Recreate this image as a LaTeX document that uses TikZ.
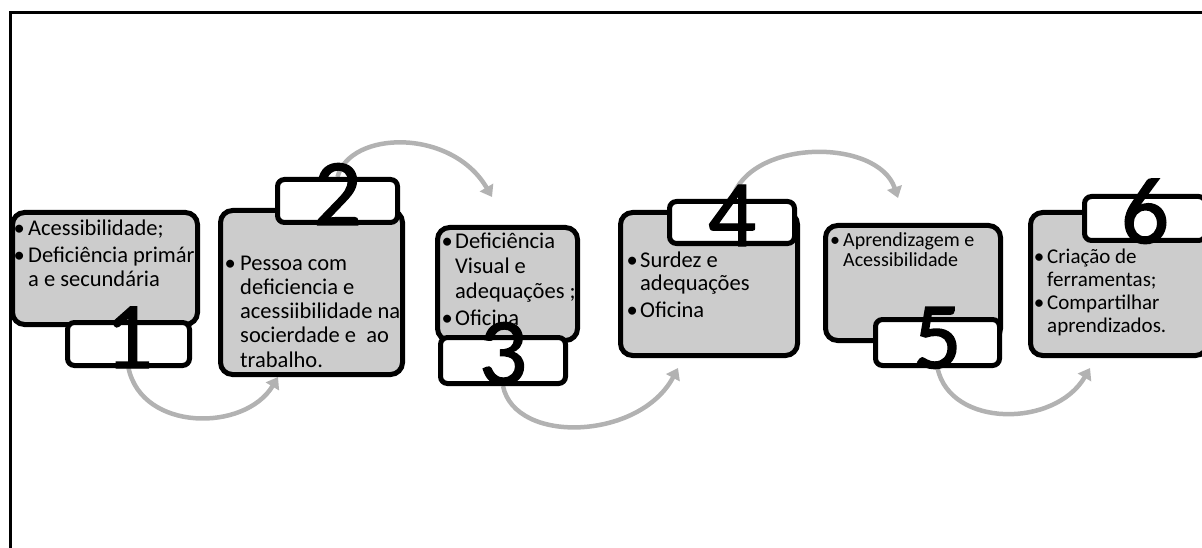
\documentclass[tikz,border=0pt]{standalone}
\usepackage{fontspec}
\setmainfont{Carlito}
\newfontfamily\digitfont{Carlito}[FakeBold=1.5]
\usetikzlibrary{arrows.meta,backgrounds}
\definecolor{boxgray}{RGB}{204,204,204}
\definecolor{arcgray}{RGB}{178,178,178}
% bullet centred on the current point, text to its right
\newcommand\bul[1][9pt]{\makebox[0pt][c]{\textbullet}\hspace*{#1}}
\newcommand\ind[1][9pt]{\hspace*{#1}}
\begin{document}
\begin{tikzpicture}[x=1pt,y=-1pt,
  graybox/.style={draw=black,line width=5pt,fill=boxgray,rounded corners=12pt,inner sep=0pt},
  numbox/.style={draw=black,line width=5pt,fill=white,rounded corners=7pt,inner sep=0pt},
  digit/.style={anchor=base,inner sep=0pt,font=\digitfont\fontsize{95}{95}\selectfont},
  textblock/.style={anchor=base west,inner sep=0pt},
  flowarc/.style={draw=arcgray,line width=4.5pt,-{Triangle[length=11pt,width=15pt]}}
]
\useasboundingbox (0,0) rectangle (1202,548);
\clip (0,0) rectangle (1202,548);

% outer frame (only its top and left sides fall inside the page)
\draw[line width=3pt] (10,12.5) rectangle (1260,620);

% step boxes
\node[graybox,minimum width=185pt,minimum height=112pt] (b1) at (105,268.5) {};
\node[graybox,minimum width=182pt,minimum height=164pt] (b2) at (311.5,292.5) {};
\node[graybox,minimum width=140pt,minimum height=113pt] (b3) at (507.5,284) {};
\node[graybox,minimum width=177pt,minimum height=143pt] (b4) at (709,284) {};
\node[graybox,minimum width=175pt,minimum height=115pt] (b5) at (913,283) {};
\node[graybox,minimum width=177pt,minimum height=143pt] (b6) at (1119,284) {};

% step texts
\node[textblock] (t1) at (19,236) {\parbox[t]{200pt}{\raggedright\fontsize{22.5}{24}\selectfont
  \bul Acessibilidade;\\[3pt]
  \bul Deficiência primár\\
  \ind a e secundária}};
\node[textblock] (t2) at (230,270) {\parbox[t]{200pt}{\raggedright\fontsize{22.5}{24.3}\selectfont
  \bul[10pt]Pessoa com\\
  \ind[10pt]deficiencia e\\
  \ind[10pt]acessiibilidade na\\
  \ind[10pt]socierdade e \ ao\\
  \ind[10pt]trabalho.}};
\node[textblock] (t3) at (447,248) {\parbox[t]{200pt}{\raggedright\fontsize{22.5}{25}\selectfont
  \bul[8pt]Deficiência\\
  \ind[8pt]Visual e\\
  \ind[8pt]adequações ;\\[2pt]
  \bul[8pt]Oficina}};
\node[textblock] (t4) at (632,267) {\parbox[t]{200pt}{\raggedright\fontsize{22.5}{23}\selectfont
  \bul[8pt]Surdez e\\
  \ind[8pt]adequações\\[5pt]
  \bul[8pt]Oficina}};
\node[textblock] (t5) at (835,247) {\parbox[t]{200pt}{\raggedright\fontsize{20}{20}\selectfont
  \bul[8pt]Aprendizagem e\\
  \ind[8pt]Acessibilidade}};
\node[textblock] (t6) at (1039,263) {\parbox[t]{200pt}{\raggedright\fontsize{21}{23}\selectfont
  \bul[8pt]Criação de\\
  \ind[8pt]ferramentas;\\[1pt]
  \bul[8pt]Compartilhar\\
  \ind[8pt]aprendizados.}};

% number tabs
\node[numbox,minimum width=122pt,minimum height=43pt] (n1) at (128.5,344) {};
\node[numbox,minimum width=120pt,minimum height=43pt] (n2) at (337.5,201) {};
\node[numbox,minimum width=125pt,minimum height=46pt] (n3) at (503,360.5) {};
\node[numbox,minimum width=125pt,minimum height=42pt] (n4) at (732,222.5) {};
\node[numbox,minimum width=124pt,minimum height=46pt] (n5) at (937.5,342.5) {};
\node[numbox,minimum width=121pt,minimum height=44pt] (n6) at (1145,218.5) {};

\node[digit] (d1) at (128.5,368) {1};
\node[digit] (d2) at (337.5,225) {2};
\node[digit] (d3) at (503,384) {3};
\node[digit] (d4) at (732,246) {4};
\node[digit] (d5) at (937.5,368) {5};
\node[digit] (d6) at (1145,243) {6};

% arrow ends next to the following step
\coordinate (e1) at (278,377);
\coordinate (e2) at (492,197);
\coordinate (e3) at (678,368);
\coordinate (e4) at (898,198);
\coordinate (e5) at (1090,368);

% curved arrows, behind the boxes
\begin{scope}[on background layer]
\draw[flowarc] (n1.south) .. controls (142,432) and (245,432) .. (e1);
\draw[flowarc] (n2.north) .. controls (350,130) and (452,128) .. (e2);
\draw[flowarc] (n3.south) .. controls (515,445) and (640,440) .. (e3);
\draw[flowarc] (n4.north) .. controls (750,138) and (878,138) .. (e4);
\draw[flowarc] (n5.south) .. controls (950,428) and (1055,428) .. (e5);
\end{scope}
\end{tikzpicture}
\end{document}
